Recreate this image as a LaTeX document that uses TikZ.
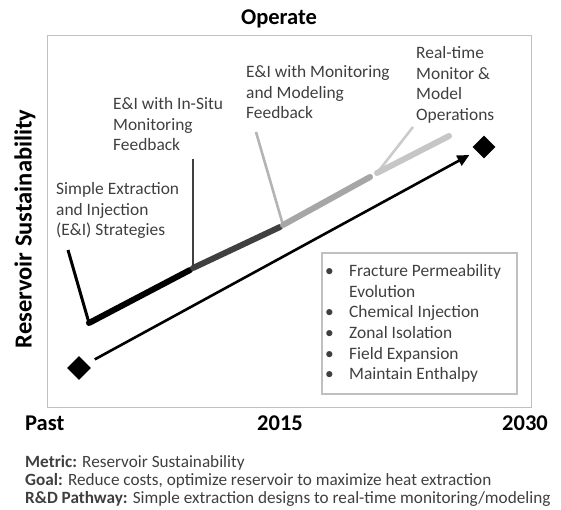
\documentclass[tikz,border=0pt]{standalone}
\usepackage{fontspec}
\setmainfont{Carlito}
\usetikzlibrary{arrows.meta,shapes.geometric}
\definecolor{txt}{HTML}{3F3F3F}
\definecolor{dkseg}{HTML}{404040}
\definecolor{mdseg}{HTML}{A6A6A6}
\definecolor{mdlead}{HTML}{B4B4B4}
\definecolor{ltseg}{HTML}{C6C6C6}
\definecolor{ltlead}{HTML}{CBCBCB}
\definecolor{framec}{HTML}{C0C0C0}
\begin{document}
\begin{tikzpicture}[x=1pt,y=-1pt,
  lbl/.style={anchor=north west,inner sep=0pt,align=left,text=txt,font=\fontsize{17.4}{20.8}\selectfont},
  axis/.style={inner sep=0pt,font=\bfseries\fontsize{22.5}{26}\selectfont},
  seg/.style={line width=6pt,line cap=round},
  lead/.style={line width=2.6pt},
  dmark/.style={diamond,fill=black,draw=none,minimum size=24pt,inner sep=0pt}]
\useasboundingbox (0,0) rectangle (561,510);
% frame
\node[draw=framec,line width=1pt,inner sep=0pt,minimum width=484pt,minimum height=372pt,anchor=north west] (frame) at (47,35) {};
% titles
\node[axis,anchor=base] (op) at (279,25) {Operate};
\node[axis,rotate=90,font=\bfseries\fontsize{24.5}{28}\selectfont] (ylab) at (25,229) {Reservoir Sustainability};
\node[axis,anchor=base west] (past) at (25,430) {Past};
\node[axis,anchor=base] (y15) at (280,430) {2015};
\node[axis,anchor=base east] (y30) at (548,430) {2030};
% stage labels
\node[lbl] (l1) at (56,182) {Simple Extraction\\and Injection\\(E\&I) Strategies};
\node[lbl] (l2) at (113,97) {E\&I with In-Situ\\Monitoring\\Feedback};
\node[lbl] (l3) at (246,65) {E\&I with Monitoring\\and Modeling\\Feedback};
\node[lbl] (l4) at (416,46) {Real-time\\Monitor \&\\Model\\Operations};
% stage segments
\coordinate (k0) at (68,250);  \coordinate (k1) at (89,323);  \coordinate (k2) at (190,270);
\coordinate (g0) at (193,159); \coordinate (g1) at (193,268); \coordinate (g2) at (280,227);
\coordinate (m0) at (256,132); \coordinate (m1) at (283,225); \coordinate (m2) at (370,177);
\coordinate (t0) at (413,127); \coordinate (t1) at (377,173); \coordinate (t2) at (449,136);
\draw[lead,black,line width=3pt] (k0) -- (k1);
\draw[seg,black] (k1) -- (k2);
\draw[lead,dkseg] (g0) -- (g1);
\draw[seg,dkseg] (g1) -- (g2);
\draw[lead,mdlead] (m0) -- (m1);
\draw[seg,mdseg] (m1) -- (m2);
\draw[lead,ltlead] (t0) -- (t1);
\draw[seg,ltseg] (t1) -- (t2);
% trend arrow
\node[dmark] (d1) at (79,368) {};
\node[dmark,minimum size=23pt] (d2) at (484,147) {};
\draw[line width=2.6pt,-{Triangle[length=12pt,width=11pt]},shorten <=9pt,shorten >=8pt] (d1) -- (d2);
% bullet box
\node[draw=framec,line width=1.5pt,inner sep=0pt,minimum width=195pt,minimum height=141pt,anchor=north west] (box) at (321,252) {};
\node[anchor=north west,inner sep=0pt,text=txt,font=\fontsize{17.4}{20.6}\selectfont] (blist) at (325,262)
  {\begin{tabular}{@{}l@{}l@{}}
   \makebox[24pt][l]{\textbullet} & Fracture Permeability\\
   & Evolution\\
   \textbullet & Chemical Injection\\
   \textbullet & Zonal Isolation\\
   \textbullet & Field Expansion\\
   \textbullet & Maintain Enthalpy
   \end{tabular}};
% footer
\node[anchor=north west,inner sep=0pt,align=left,text=txt,font=\fontsize{17.2}{18}\selectfont] (foot) at (25,455)
  {\textbf{Metric:} Reservoir Sustainability\\
   \textbf{Goal:} Reduce\ costs, optimize reservoir to maximize heat extraction\\
   \textbf{R\&D Pathway:} Simple extraction designs to real-time monitoring/modeling};
\end{tikzpicture}
\end{document}
